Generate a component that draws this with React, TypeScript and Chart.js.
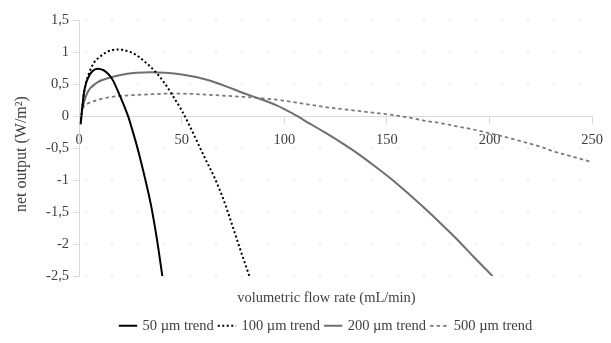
import React, { useEffect, useRef } from "react";
import { Chart, registerables } from "chart.js";

Chart.register(...registerables);

// ---- data ----
const seriesNames = ["50 µm trend", "100 µm trend", "200 µm trend", "500 µm trend"];

const flow50 = [0.8, 1.5, 2.4, 3.5, 4.8, 6.5, 9, 12, 14, 16, 18, 20, 22, 24, 26, 29, 32, 35, 38, 40.6];
const net50 = [-0.13, 0.1, 0.36, 0.52, 0.62, 0.7, 0.74, 0.715, 0.665, 0.585, 0.46, 0.31, 0.16, -0.01, -0.22, -0.56, -0.95, -1.38, -1.93, -2.5];

const flow100 = [1, 2.5, 4.8, 7.2, 10, 13, 16, 19.6, 23, 27.6, 32, 37, 42, 46, 50, 54, 58, 62, 66, 70, 74, 78, 83];
const net100 = [-0.05, 0.38, 0.66, 0.83, 0.92, 0.99, 1.03, 1.04, 1.02, 0.96, 0.85, 0.7, 0.5, 0.3, 0.09, -0.16, -0.43, -0.7, -0.96, -1.27, -1.64, -2.03, -2.5];

const flow200 = [1.2, 4, 8.7, 15, 21.5, 28, 35, 42, 50, 57, 64, 72, 80, 88, 96, 104, 112, 120, 128, 136, 144, 152, 160, 168, 176, 184, 192, 201.5];
const net200 = [0.08, 0.36, 0.52, 0.6, 0.65, 0.675, 0.685, 0.675, 0.65, 0.61, 0.55, 0.46, 0.36, 0.27, 0.17, 0.04, -0.11, -0.26, -0.42, -0.59, -0.78, -0.98, -1.2, -1.43, -1.67, -1.92, -2.19, -2.5];

const flow500 = [1.5, 4, 7, 10, 16, 23, 32, 44, 55, 64, 72, 80, 88, 96, 104, 112, 120, 128, 136, 144, 152, 160, 168, 176, 184, 192, 200, 208, 216, 224, 232, 240, 250];
const net500 = [0.12, 0.19, 0.23, 0.26, 0.3, 0.32, 0.335, 0.35, 0.345, 0.33, 0.315, 0.3, 0.28, 0.255, 0.22, 0.18, 0.14, 0.11, 0.08, 0.05, 0.02, -0.02, -0.07, -0.11, -0.16, -0.21, -0.27, -0.33, -0.4, -0.47, -0.56, -0.63, -0.72];

const xMin = 0;
const xMax = 250;
const xStep = 50;
const yMin = -2.5;
const yMax = 1.5;
const yStep = 0.5;

const xTitle = "volumetric flow rate (mL/min)";
const yTitle = "net output (W/m²)";

const FONT = "'Liberation Serif', 'Times New Roman', serif";
const TEXT = "#404040";
const AXIS = "#d9d9d9";

const toPoints = (xs: number[], ys: number[]) => xs.map((x, i) => ({ x, y: ys[i] }));

export default function App() {
  const ref = useRef<HTMLCanvasElement | null>(null);

  useEffect(() => {
    if (!ref.current) return;

    const yTitlePlugin = {
      id: "yTitlePlugin",
      afterDraw(chart: any) {
        const { ctx, chartArea } = chart;
        ctx.save();
        ctx.translate(22, (chartArea.top + chartArea.bottom) / 2 + 6);
        ctx.rotate(-Math.PI / 2);
        ctx.font = `16px ${FONT}`;
        ctx.fillStyle = TEXT;
        ctx.textAlign = "center";
        ctx.textBaseline = "middle";
        ctx.fillText(yTitle, 0, 0);
        ctx.restore();
      },
    };

    const chart = new Chart(ref.current, {
      type: "line",
      data: {
        datasets: [
          {
            label: seriesNames[0],
            data: toPoints(flow50, net50),
            borderColor: "#000000",
            backgroundColor: "#000000",
            borderWidth: 2,
            pointRadius: 0,
            cubicInterpolationMode: "monotone",
          },
          {
            label: seriesNames[1],
            data: toPoints(flow100, net100),
            borderColor: "#000000",
            backgroundColor: "#000000",
            borderWidth: 2,
            borderDash: [2, 2.5],
            pointRadius: 0,
            cubicInterpolationMode: "monotone",
          },
          {
            label: seriesNames[2],
            data: toPoints(flow200, net200),
            borderColor: "#6f6f6f",
            backgroundColor: "#6f6f6f",
            borderWidth: 2,
            pointRadius: 0,
            cubicInterpolationMode: "monotone",
          },
          {
            label: seriesNames[3],
            data: toPoints(flow500, net500),
            borderColor: "#7a7a7a",
            backgroundColor: "#7a7a7a",
            borderWidth: 1.75,
            borderDash: [3.5, 3],
            pointRadius: 0,
            cubicInterpolationMode: "monotone",
          },
        ],
      },
      options: {
        animation: false,
        responsive: false,
        maintainAspectRatio: false,
        devicePixelRatio: 1,
        layout: { padding: { left: 42, right: 0, top: 20, bottom: 0 } },
        scales: {
          x: {
            type: "linear",
            min: xMin,
            max: xMax,
            position: { y: 0 },
            ticks: {
              stepSize: xStep,
              color: TEXT,
              font: { family: FONT, size: 14.5 },
              padding: 8,
              maxRotation: 0,
            },
            grid: { drawOnChartArea: false, drawTicks: true, tickLength: 7, color: AXIS },
            border: { display: true, color: AXIS, width: 1 },
          },
          y: {
            type: "linear",
            position: "left",
            min: yMin,
            max: yMax,
            ticks: {
              stepSize: yStep,
              color: TEXT,
              font: { family: FONT, size: 14.5 },
              padding: 4,
              callback: (v: any) => String(v).replace(".", ","),
            },
            grid: { drawOnChartArea: false, drawTicks: true, tickLength: 6, color: AXIS },
            border: { display: true, color: AXIS, width: 1 },
            afterFit: (scale: any) => {
              scale.width = 37;
            },
          },
          y2: {
            type: "linear",
            position: "right",
            min: yMin,
            max: yMax,
            ticks: { display: false, stepSize: yStep },
            grid: { drawOnChartArea: true, drawTicks: false, color: "#e2e2e2", lineWidth: 1 },
            border: { display: false, dash: [2, 24], dashOffset: 20 },
            afterFit: (scale: any) => {
              scale.width = 9;
            },
          },
        },
        plugins: {
          legend: {
            position: "bottom",
            weight: 1000,
            labels: {
              usePointStyle: true,
              pointStyle: "line",
              boxHeight: 13,
              padding: 6,
              color: TEXT,
              font: { family: FONT, size: 14.5 },
              generateLabels: (c: any) => {
                const items = Chart.defaults.plugins.legend.labels.generateLabels(c);
                items.forEach((it: any) => {
                  const ds: any = c.data.datasets[it.datasetIndex];
                  it.lineDash = ds.borderDash || [];
                  it.lineWidth = ds.borderWidth;
                  it.strokeStyle = ds.borderColor;
                  it.fillStyle = ds.borderColor;
                  it.pointStyle = "line";
                });
                return items;
              },
            },
          },
          title: {
            display: true,
            text: xTitle,
            position: "bottom",
            weight: 500,
            color: TEXT,
            font: { family: FONT, size: 14.5, weight: "normal" },
            padding: { top: 13, bottom: 6 },
          },
          tooltip: { enabled: false },
        },
      },
      plugins: [yTitlePlugin],
    } as any);

    return () => chart.destroy();
  }, []);

  return (
    <div style={{ position: "absolute", left: 0, top: 0, width: 611, height: 343 }}>
      <canvas ref={ref} width={611} height={343} style={{ display: "block", width: 611, height: 343 }} />
    </div>
  );
}
